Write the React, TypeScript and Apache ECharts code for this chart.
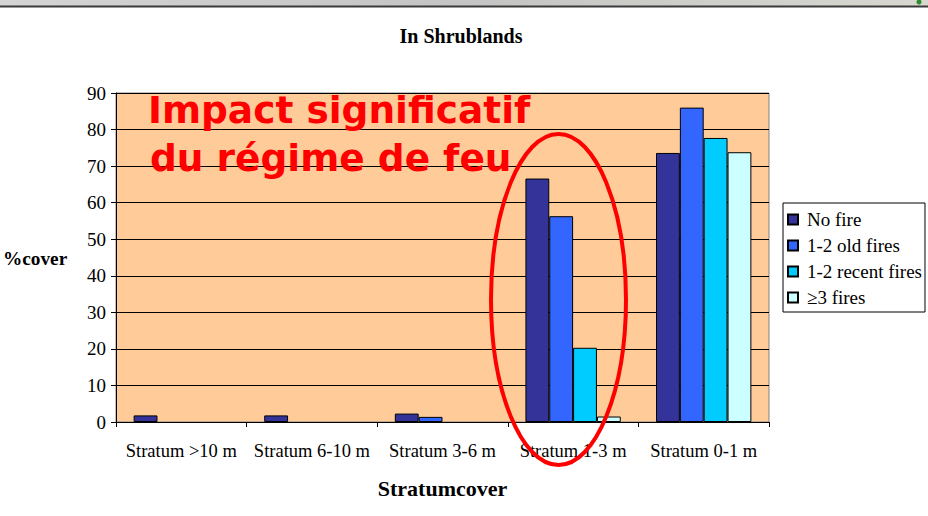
import React, { useEffect, useRef } from "react";
import * as echarts from "echarts";

const categories = ["Stratum >10 m", "Stratum 6-10 m", "Stratum 3-6 m", "Stratum 1-3 m", "Stratum 0-1 m"];
const seriesNames = ["No fire", "1-2 old fires", "1-2 recent fires", "≥3 fires"];
const noFire = [1.8, 1.8, 2.3, 66.6, 73.6];
const oldFires = [0, 0, 1.4, 56.3, 86.0];
const recentFires = [0, 0, 0, 20.3, 77.7];
const threePlusFires = [0, 0, 0, 1.5, 73.8];
const seriesColors = ["#333399", "#3366FF", "#00CCFF", "#CCFFFF"];
const yMin = 0;
const yMax = 90;
const yInterval = 10;

const SERIF = "'Liberation Serif', 'Times New Roman', serif";

export default function App() {
  const ref = useRef<HTMLDivElement>(null);
  useEffect(() => {
    if (!ref.current) return;
    const chart = echarts.init(ref.current, null, { renderer: "svg" });
    const values = [noFire, oldFires, recentFires, threePlusFires];
    chart.setOption({
      animation: false,
      backgroundColor: "#FFFFFF",
      grid: {
        left: 116,
        right: 159,
        top: 93,
        bottom: 94,
        show: true,
        backgroundColor: "#FFCC99",
        borderColor: "#808080",
        borderWidth: 1,
      },
      legend: {
        orient: "vertical",
        left: 783,
        top: 203,
        padding: [7, 3, 5, 4],
        itemWidth: 10,
        itemHeight: 10,
        itemGap: 7,
        icon: "rect",
        backgroundColor: "#FFFFFF",
        borderColor: "#000000",
        borderWidth: 1,
        borderRadius: 0,
        data: seriesNames,
        textStyle: {
          fontFamily: SERIF,
          fontSize: 19,
          lineHeight: 19,
          color: "#000000",
          padding: [0, 0, 0, 4],
        },
      },
      xAxis: {
        type: "category",
        data: categories,
        axisLine: { show: true, lineStyle: { color: "#000000", width: 1 } },
        axisTick: { show: true, length: 5, alignWithLabel: false, lineStyle: { color: "#000000" } },
        axisLabel: {
          fontFamily: SERIF,
          fontSize: 18.5,
          lineHeight: 19,
          color: "#000000",
          margin: 19,
          interval: 0,
        },
        splitLine: { show: false },
      },
      yAxis: {
        type: "value",
        min: yMin,
        max: yMax,
        interval: yInterval,
        axisLine: { show: true, lineStyle: { color: "#000000", width: 1 } },
        axisTick: { show: true, length: 5, lineStyle: { color: "#000000" } },
        axisLabel: {
          fontFamily: SERIF,
          fontSize: 19,
          color: "#000000",
          margin: 10,
        },
        splitLine: { show: true, lineStyle: { color: "#000000", width: 1 } },
      },
      series: seriesNames.map((name, i) => ({
        name,
        type: "bar",
        data: values[i].map((v) => (v === 0 ? { value: v, itemStyle: { borderWidth: 0 } } : v)),
        barGap: "0%",
        barCategoryGap: "27%",
        itemStyle: { color: seriesColors[i], borderColor: "#000000", borderWidth: 1 },
      })),
      graphic: [
        {
          type: "rect",
          shape: { x: 0, y: 0, width: 928, height: 6 },
          style: {
            fill: new echarts.graphic.LinearGradient(0, 0, 1, 0, [
              { offset: 0, color: "#d4d4d4" },
              { offset: 0.5, color: "#c4c4c4" },
              { offset: 1, color: "#d8d8d0" },
            ]),
          },
          silent: true,
        },
        {
          type: "line",
          shape: { x1: 0, y1: 6.5, x2: 928, y2: 6.5 },
          style: { stroke: "#3a3a3a", lineWidth: 2 },
          silent: true,
        },
        {
          type: "circle",
          shape: { cx: 919, cy: 2, r: 2.5 },
          style: { fill: "#2e8b2e" },
          silent: true,
        },
        {
          type: "text",
          x: 461,
          y: 36,
          style: {
            text: "In Shrublands",
            fontFamily: SERIF,
            fontWeight: "bold",
            fontSize: 20,
            fill: "#000000",
            align: "center",
            verticalAlign: "middle",
          },
        },
        {
          type: "text",
          x: 3,
          y: 258,
          style: {
            text: "%cover",
            fontFamily: SERIF,
            fontWeight: "bold",
            fontSize: 19.3,
            fill: "#000000",
            align: "left",
            verticalAlign: "middle",
          },
        },
        {
          type: "text",
          x: 442.5,
          y: 488,
          style: {
            text: "Stratumcover",
            fontFamily: SERIF,
            fontWeight: "bold",
            fontSize: 22,
            fill: "#000000",
            align: "center",
            verticalAlign: "middle",
          },
        },
        {
          type: "text",
          x: 148,
          y: 110,
          z: 100,
          style: {
            text: "Impact significatif",
            fontFamily: "'DejaVu Sans', sans-serif",
            fontWeight: "bold",
            fontSize: 37.5,
            fill: "#FF0000",
            align: "left",
            verticalAlign: "middle",
          },
        },
        {
          type: "text",
          x: 150,
          y: 158,
          z: 100,
          style: {
            text: "du régime de feu",
            fontFamily: "'DejaVu Sans', sans-serif",
            fontWeight: "bold",
            fontSize: 37.5,
            fill: "#FF0000",
            align: "left",
            verticalAlign: "middle",
          },
        },
        {
          type: "ellipse",
          z: 100,
          shape: { cx: 558.5, cy: 299.5, rx: 67.5, ry: 165.5 },
          style: { fill: "none", stroke: "#FF0000", lineWidth: 4 },
          silent: true,
        },
      ],
    });
    return () => chart.dispose();
  }, []);
  return (
    <div
      ref={ref}
      style={{ position: "absolute", left: 0, top: 0, width: 928, height: 516, background: "#FFFFFF" }}
    />
  );
}
